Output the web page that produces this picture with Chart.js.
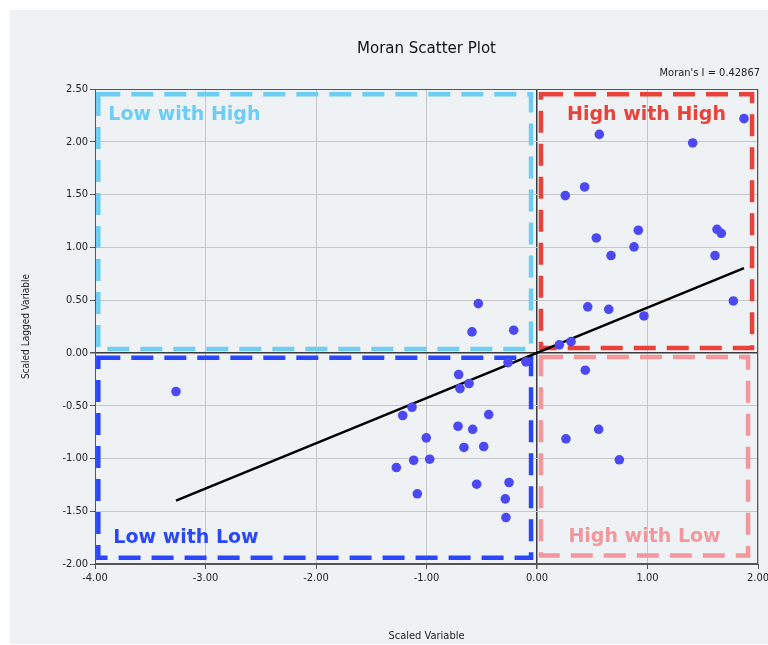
<!DOCTYPE html>
<html><head><meta charset="utf-8">
<script src="https://cdn.jsdelivr.net/npm/chart.js@4/dist/chart.umd.min.js"></script>
<style>
html,body{margin:0;padding:0;background:#fff;overflow:hidden;width:768px;height:645px}
#panel{position:absolute;left:10px;top:10px;width:758px;height:634px;background:#eff2f4;overflow:hidden}
#c{position:absolute;left:0;top:0}
</style></head><body>
<div id="panel"><canvas id="c" width="800" height="634"></canvas></div>
<script>
// ---- data ----
const scaledVariable = [
  1.873, 0.564, 1.409, 0.256, 0.431, 0.537, 0.670, 0.917, 0.878, 1.629, 1.668, 1.611, 1.777, 0.459, 0.649, 0.968, 0.202, 0.308,
  -0.531, -0.588, -0.211,
  -0.262, -0.100, -0.709, -0.697, -0.615, -3.267, -1.131, -1.215, -0.437, -0.715, -0.582, -1.002, -0.661, -0.482, -1.116, -0.971, -1.273, -0.546, -0.253, -1.083, -0.287, -0.281,
  0.437, 0.558, 0.262, 0.745
];
const scaledLaggedVariable = [
  2.219, 2.070, 1.989, 1.490, 1.572, 1.089, 0.922, 1.162, 1.004, 1.171, 1.133, 0.922, 0.492, 0.436, 0.413, 0.350, 0.076, 0.107,
  0.467, 0.199, 0.215,
  -0.092, -0.085, -0.205, -0.338, -0.290, -0.366, -0.515, -0.593, -0.584, -0.695, -0.724, -0.805, -0.896, -0.887, -1.017, -1.007, -1.086, -1.244, -1.228, -1.335, -1.383, -1.560,
  -0.164, -0.724, -0.814, -1.013
];
const moransI = 0.42867;
const xTicks = [-4, -3, -2, -1, 0, 1, 2];
const yTicks = [-2, -1.5, -1, -0.5, 0, 0.5, 1, 1.5, 2, 2.5];
const quadrantNames = ['Low with High', 'High with High', 'Low with Low', 'High with Low'];

// ---- derived ----
const points = scaledVariable.map((x, i) => ({x, y: scaledLaggedVariable[i]}));
const xMinData = Math.min(...scaledVariable), xMaxData = Math.max(...scaledVariable);
const fitLine = [{x: xMinData, y: moransI * xMinData}, {x: xMaxData, y: moransI * xMaxData}];

const FONT = "'DejaVu Sans Condensed','DejaVu Sans',sans-serif";
const BOLD_FONT = "'DejaVu Sans',sans-serif";

// quadrant boxes in data units
const quads = [
  {name: quadrantNames[0], color: '#6dcdf2', x0: -3.97, x1: -0.054, y0: 0.038, y1: 2.45, align: 'left', tx: 10, dy: 21},
  {name: quadrantNames[1], color: '#e8423a', x0: 0.036, x1: 1.946, y0: 0.047, y1: 2.45, align: 'center', dy: 21},
  {name: quadrantNames[2], color: '#2b47fb', x0: -3.97, x1: -0.054, y0: -1.94, y1: -0.047, align: 'left', tx: 15, dy: -20},
  {name: quadrantNames[3], color: '#f3979c', x0: 0.036, x1: 1.91, y0: -1.92, y1: -0.038, align: 'center', dy: -18}
];

const decor = {
  id: 'decor',
  beforeDatasetsDraw(chart) {
    const {ctx, scales: {x, y}, chartArea: a} = chart;
    ctx.save();
    ctx.beginPath(); ctx.rect(a.left, a.top, a.width, a.height); ctx.clip();
    ctx.lineWidth = 4.5;
    ctx.setLineDash([22, 11]);
    quads.forEach(q => {
      ctx.strokeStyle = q.color;
      const l = x.getPixelForValue(q.x0), r = x.getPixelForValue(q.x1);
      const t = y.getPixelForValue(q.y1), b = y.getPixelForValue(q.y0);
      ctx.strokeRect(l, t, r - l, b - t);
    });
    ctx.restore();
  },
  afterDatasetsDraw(chart) {
    const {ctx, scales: {x, y}, chartArea: a} = chart;
    ctx.save();
    ctx.font = "bold 19px " + BOLD_FONT;
    ctx.textBaseline = 'middle';
    quads.forEach(q => {
      const l = x.getPixelForValue(q.x0), r = x.getPixelForValue(q.x1);
      const t = y.getPixelForValue(q.y1), b = y.getPixelForValue(q.y0);
      ctx.fillStyle = q.color;
      ctx.textAlign = q.align;
      const tx = q.align === 'left' ? l + q.tx : (l + r) / 2;
      const ty = q.dy > 0 ? t + q.dy : b + q.dy;
      ctx.fillText(q.name, tx, ty);
    });
    // plot border
    ctx.strokeStyle = '#555';
    ctx.lineWidth = 1;
    ctx.strokeRect(a.left + 0.5, a.top + 0.5, a.width - 1, a.height - 1);
    // titles
    ctx.fillStyle = '#111';
    ctx.textAlign = 'center';
    ctx.font = "16.7px " + FONT;
    ctx.fillText('Moran Scatter Plot', (a.left + a.right) / 2, 39);
    ctx.textAlign = 'right';
    ctx.font = "11px " + FONT;
    ctx.fillStyle = '#222';
    ctx.fillText("Moran's I = " + moransI.toFixed(5), 750, 63);
    ctx.restore();
  }
};

new Chart(document.getElementById('c'), {
  type: 'scatter',
  data: {
    datasets: [
      {label: 'points', data: points, backgroundColor: '#4b48f4', borderWidth: 0, pointRadius: 4.8, pointHoverRadius: 4.8, order: 0},
      {type: 'line', label: 'fit', data: fitLine, borderColor: '#000', borderWidth: 2.5, pointRadius: 0, fill: false, order: 1}
    ]
  },
  options: {
    responsive: false,
    animation: false,
    events: [],
    layout: {padding: {top: 79, right: 52, left: 0, bottom: 0}},
    plugins: {legend: {display: false}, tooltip: {enabled: false}, title: {display: false}},
    scales: {
      x: {
        type: 'linear', min: -4, max: 2,
        afterFit(s) { s.height = 80; },
        afterBuildTicks(s) { s.ticks = xTicks.map(v => ({value: v})); },
        ticks: {font: {family: FONT, size: 11}, color: '#222', padding: 3, maxRotation: 0,
          callback: v => v.toFixed(2)},
        grid: {color: c => c.tick && c.tick.value === 0 ? '#3a3a3a' : '#c6c6c6', lineWidth: c => c.tick && c.tick.value === 0 ? 1.5 : 1,
          tickColor: '#555', tickLength: 5},
        border: {display: true, color: '#555'},
        title: {display: true, text: 'Scaled Variable', font: {family: FONT, size: 11}, color: '#222', padding: {bottom: 1, top: 0}}
      },
      y: {
        type: 'linear', min: -2, max: 2.5,
        afterFit(s) { s.width = 85; },
        afterBuildTicks(s) { s.ticks = yTicks.map(v => ({value: v})); },
        ticks: {font: {family: FONT, size: 11}, color: '#222', padding: 2,
          callback: v => v.toFixed(2)},
        grid: {color: c => c.tick && c.tick.value === 0 ? '#3a3a3a' : '#c6c6c6', lineWidth: c => c.tick && c.tick.value === 0 ? 1.5 : 1,
          tickColor: '#555', tickLength: 5},
        border: {display: true, color: '#555'},
        title: {display: true, text: 'Scaled Lagged Variable', font: {family: FONT, size: 10}, color: '#222', padding: {top: 10, bottom: 0}}
      }
    }
  },
  plugins: [decor]
});
</script>
</body></html>
